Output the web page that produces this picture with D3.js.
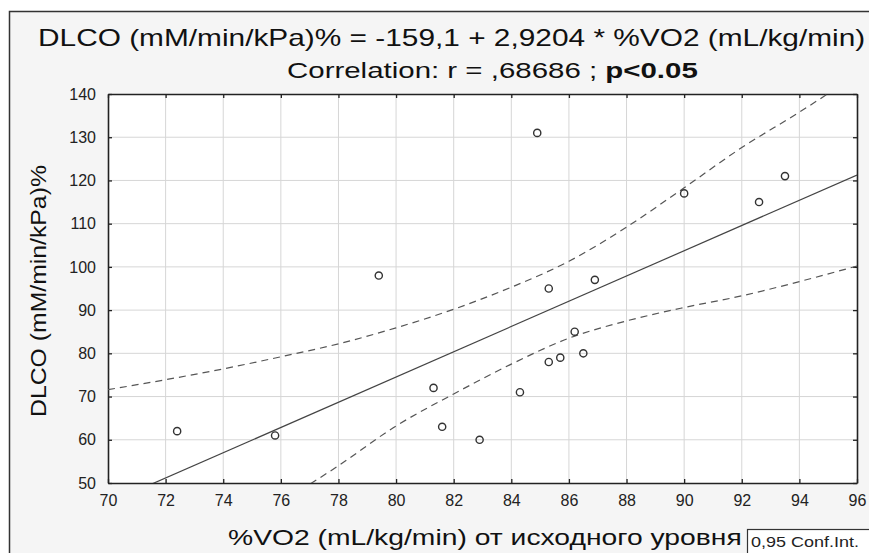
<!DOCTYPE html>
<html>
<head>
<meta charset="utf-8">
<script src="https://cdn.jsdelivr.net/npm/d3@7"></script>
<style>
  body { margin: 0; background: #fff; }
  text { font-family: Arial, "Liberation Sans", sans-serif; }
</style>
</head>
<body>
<svg id="chart" width="869" height="553"></svg>
<script>
// points
const vo2  = [72.4, 75.8, 79.4, 81.3, 81.6, 82.9, 84.3, 84.9, 85.3, 85.3, 85.7, 86.2, 86.5, 86.9, 90.0, 92.6, 93.5];
const dlco = [62,   61,   98,   72,   63,   60,   71,   131,  95,   78,   79,   85,   80,   97,   117,  115,  121];

// regression from the title
const intercept = -159.1;
const slope = 2.9204;

// 0.95 confidence band
const ciX     = [70,   72,   74,   76,   78,   80,   82,   84,   86,    88,    90,    92,    94,    96];
const ciUpper = [71.6, 73.9, 76.4, 79.2, 82.2, 85.9, 90.2, 95.3, 101.3, 109.2, 118.3, 127.6, 135.8, 144.5];
const ciLower = [20,   29,   37,   45.5, 54,   63.2, 70.6, 77.5, 83.5,  87.5,  90.6,  93.3,  96.6,  100.2];

const xTicks = [70, 72, 74, 76, 78, 80, 82, 84, 86, 88, 90, 92, 94, 96];
const yTicks = [50, 60, 70, 80, 90, 100, 110, 120, 130, 140];

const titleLine1 = "DLCO (mM/min/kPa)% = -159,1 + 2,9204 * %VO2 (mL/kg/min)";
const titleLine2a = "Correlation: r = ,68686 ; ";
const titleLine2b = "p<0.05";
const xTitle = "%VO2 (mL/kg/min) от исходного уровня";
const yTitle = "DLCO (mM/min/kPa)%";
const legendText = "0,95 Conf.Int.";

const svg = d3.select("#chart");
const plot = {left: 108, right: 857, top: 94, bottom: 483};

const x = d3.scaleLinear().domain([70, 96]).range([plot.left, plot.right]);
const y = d3.scaleLinear().domain([50, 140]).range([plot.bottom, plot.top]);

// the picture's text is wider than the font, so stretch it sideways
function stretch(sel, x0, y0, width) {
    const w = sel.node().getComputedTextLength();
    sel.attr("transform", `translate(${x0},${y0}) scale(${width / w},1)`);
}

// outer frame
svg.append("rect")
    .attr("x", 9.5).attr("y", 11.5)
    .attr("width", 880).attr("height", 560)
    .attr("fill", "#f5f5f5")
    .attr("stroke", "#333").attr("stroke-width", 1.5);

svg.append("clipPath").attr("id", "clip")
  .append("rect")
    .attr("x", plot.left).attr("y", plot.top)
    .attr("width", plot.right - plot.left).attr("height", plot.bottom - plot.top);

svg.append("rect")
    .attr("x", plot.left).attr("y", plot.top)
    .attr("width", plot.right - plot.left).attr("height", plot.bottom - plot.top)
    .attr("fill", "#fff");

// grid
const grid = svg.append("g").attr("stroke", "#d6d6d6").attr("stroke-width", 1);
grid.selectAll(".gx")
    .data(xTicks.slice(1, -1))
    .join("line")
    .attr("x1", d => x(d)).attr("x2", d => x(d))
    .attr("y1", plot.top).attr("y2", plot.bottom);
grid.selectAll(".gy")
    .data(yTicks.slice(1, -1))
    .join("line")
    .attr("y1", d => y(d)).attr("y2", d => y(d))
    .attr("x1", plot.left).attr("x2", plot.right);

// axes, ticks pointing inward
const axisStyle = g => {
    g.select(".domain").attr("stroke", "#222").attr("stroke-width", 1.6);
    g.selectAll(".tick line").attr("stroke", "#222").attr("stroke-width", 1.3);
    g.selectAll("text").attr("fill", "#222").style("font-size", "16px");
};

svg.append("g")
    .attr("transform", `translate(0,${plot.bottom})`)
    .call(d3.axisBottom(x).tickValues(xTicks).tickSize(-4).tickPadding(12).tickSizeOuter(0))
    .call(axisStyle);
svg.append("g")
    .attr("transform", `translate(${plot.left},0)`)
    .call(d3.axisLeft(y).tickValues(yTicks).tickSize(-4).tickPadding(12).tickSizeOuter(0))
    .call(axisStyle);
svg.append("g")
    .attr("transform", `translate(0,${plot.top})`)
    .call(d3.axisTop(x).tickValues(xTicks).tickSize(-4).tickFormat("").tickSizeOuter(0))
    .call(axisStyle);
svg.append("g")
    .attr("transform", `translate(${plot.right},0)`)
    .call(d3.axisRight(y).tickValues(yTicks).tickSize(-4).tickFormat("").tickSizeOuter(0))
    .call(axisStyle);

// lines
const lines = svg.append("g").attr("clip-path", "url(#clip)");
const band = d3.line().x((d, i) => x(ciX[i])).y(d => y(d)).curve(d3.curveMonotoneX);

lines.append("path")
    .datum(ciUpper)
    .attr("d", band)
    .attr("fill", "none").attr("stroke", "#555")
    .attr("stroke-width", 1.2).attr("stroke-dasharray", "7,5");
lines.append("path")
    .datum(ciLower)
    .attr("d", band)
    .attr("fill", "none").attr("stroke", "#555")
    .attr("stroke-width", 1.2).attr("stroke-dasharray", "7,5");

const xEnds = x.domain();
lines.append("line")
    .attr("x1", x(xEnds[0])).attr("y1", y(intercept + slope * xEnds[0]))
    .attr("x2", x(xEnds[1])).attr("y2", y(intercept + slope * xEnds[1]))
    .attr("stroke", "#444").attr("stroke-width", 1.2);

// points
svg.append("g")
  .selectAll("circle")
  .data(vo2)
  .join("circle")
    .attr("cx", d => x(d))
    .attr("cy", (d, i) => y(dlco[i]))
    .attr("r", 3.6)
    .attr("fill", "none")
    .attr("stroke", "#333")
    .attr("stroke-width", 1.4);

// titles
const t1 = svg.append("text")
    .attr("fill", "#111")
    .style("font-size", "23px")
    .text(titleLine1);
stretch(t1, 38, 46, 828);

const t2 = svg.append("text")
    .attr("fill", "#111")
    .style("font-size", "22px");
t2.append("tspan").text(titleLine2a);
t2.append("tspan").attr("font-weight", "bold").text(titleLine2b);
stretch(t2, 287, 78, 411);

const ty = svg.append("text")
    .attr("text-anchor", "middle")
    .attr("fill", "#111")
    .style("font-size", "22px")
    .text(yTitle);
{
    const w = ty.node().getComputedTextLength();
    ty.attr("transform", `translate(46,291) rotate(-90) scale(${252 / w},1)`);
}

// x title ends just before the legend box
const tx = svg.append("text")
    .attr("fill", "#111")
    .style("font-size", "22px")
    .text(xTitle);
stretch(tx, 228, 545, 514);

// legend box
svg.append("rect")
    .attr("x", 747.5).attr("y", 529.5)
    .attr("width", 130).attr("height", 30)
    .attr("fill", "#fff")
    .attr("stroke", "#333").attr("stroke-width", 1.2);
const tl = svg.append("text")
    .attr("fill", "#222")
    .style("font-size", "14px")
    .text(legendText);
stretch(tl, 751, 547, 108);
</script>
</body>
</html>
